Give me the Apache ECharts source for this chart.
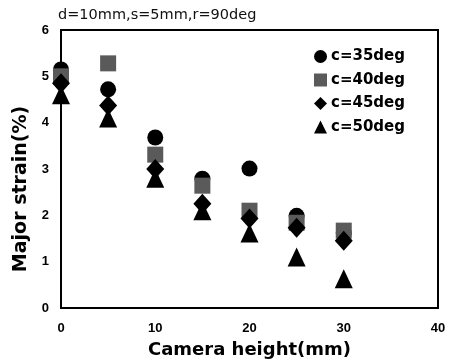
<!DOCTYPE html>
<html><head><meta charset="utf-8">
<script src="https://cdn.jsdelivr.net/npm/echarts@6/dist/echarts.min.js"></script>
<style>html,body{margin:0;padding:0;background:#fff}#c{width:457px;height:364px}</style>
</head><body><div id="c"></div>
<script>
const xValues = [0, 5, 10, 15, 20, 25, 30];
const c35 = [5.15, 4.72, 3.68, 2.79, 3.01, 1.99, 1.62];
const c40 = [5.0, 5.28, 3.31, 2.64, 2.1, 1.84, 1.67];
const c45 = [4.85, 4.37, 3.0, 2.25, 1.93, 1.73, 1.45];
const c50 = [4.6, 4.1, 2.8, 2.1, 1.62, 1.1, 0.63];
const seriesNames = ['c=35deg', 'c=40deg', 'c=45deg', 'c=50deg'];
const titleText = 'd=10mm,s=5mm,r=90deg';

const pair = arr => xValues.map((x, i) => [x, arr[i]]);
const chart = echarts.init(document.getElementById('c'));
const font = 'Arial, "Liberation Sans", sans-serif';
const wide = '"DejaVu Sans", sans-serif';
chart.setOption({
  animation: false,
  title: { text: titleText, left: 53, top: 3, textStyle: { fontFamily: wide, fontSize: 14.5, fontWeight: 'normal', color: '#111' } },
  grid: { left: 61, top: 30, right: 19, bottom: 56, show: true, borderColor: '#000', borderWidth: 2 },
  legend: {
    orient: 'vertical', right: 47, top: 44, itemGap: 8.5, itemWidth: 13, itemHeight: 13,
    textStyle: { fontFamily: wide, fontSize: 15, fontWeight: 'bold', color: '#000', padding: [0,0,0,-1] },
    data: seriesNames
  },
  xAxis: {
    type: 'value', min: 0, max: 40, interval: 10,
    name: 'Camera height(mm)', nameLocation: 'middle', nameGap: 33,
    nameTextStyle: { fontFamily: wide, fontSize: 18, fontWeight: 'bold', color: '#000' },
    axisLine: { lineStyle: { color: '#000', width: 2 } },
    axisTick: { show: false },
    axisLabel: { fontFamily: font, fontSize: 13, fontWeight: 'bold', color: '#000', margin: 14 },
    splitLine: { show: false }
  },
  yAxis: {
    type: 'value', min: 0, max: 6, interval: 1,
    name: 'Major strain(%)', nameLocation: 'middle', nameGap: 30, nameRotate: 90,
    nameTextStyle: { fontFamily: wide, fontSize: 19, fontWeight: 'bold', color: '#000', padding: [0, 40, 0, 0] },
    axisLine: { lineStyle: { color: '#000', width: 2 } },
    axisTick: { show: false },
    axisLabel: { fontFamily: font, fontSize: 13, fontWeight: 'bold', color: '#000', margin: 12 },
    splitLine: { show: false }
  },
  series: [
    { name: seriesNames[0], type: 'scatter', symbol: 'circle', symbolSize: 16, itemStyle: { color: '#000', opacity: 1 }, data: pair(c35) },
    { name: seriesNames[1], type: 'scatter', symbol: 'rect', symbolSize: 16, itemStyle: { color: '#5a5a5a', opacity: 1 }, data: pair(c40) },
    { name: seriesNames[2], type: 'scatter', symbol: 'diamond', symbolSize: [18, 20], itemStyle: { color: '#000', opacity: 1 }, data: pair(c45) },
    { name: seriesNames[3], type: 'scatter', symbol: 'triangle', symbolSize: [18, 19], itemStyle: { color: '#000', opacity: 1 }, data: pair(c50) }
  ]
});
</script></body></html>
